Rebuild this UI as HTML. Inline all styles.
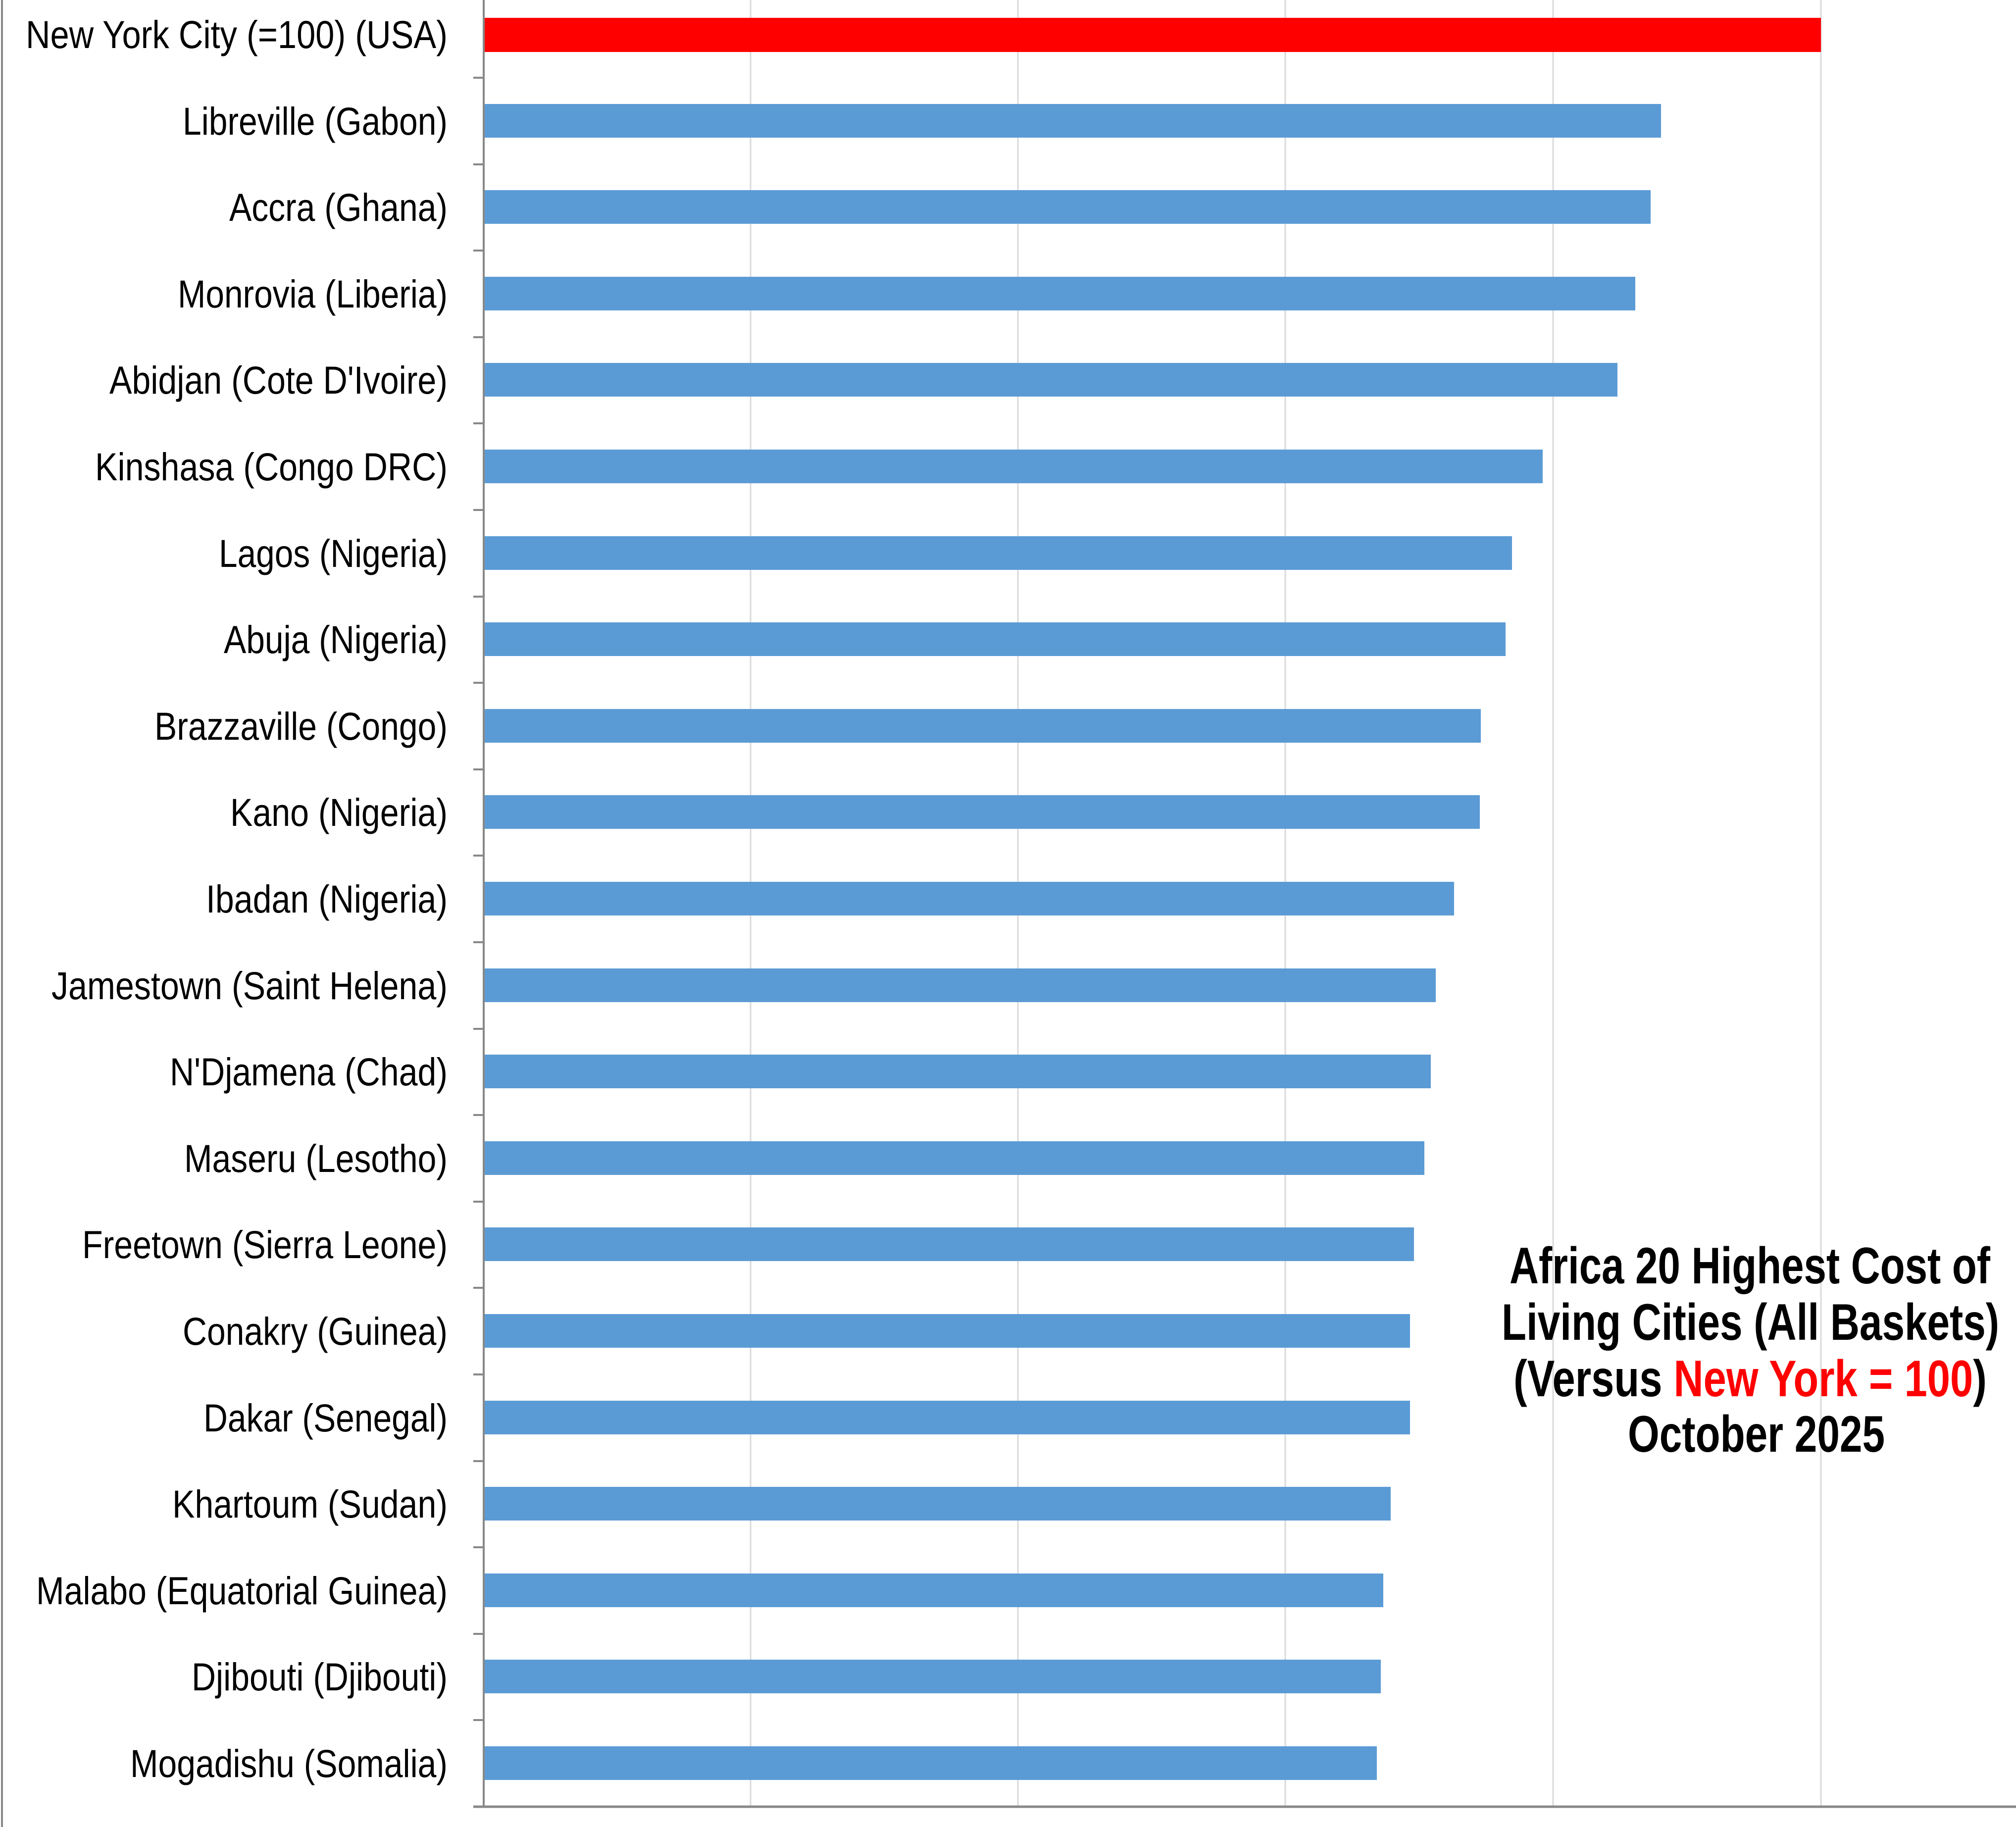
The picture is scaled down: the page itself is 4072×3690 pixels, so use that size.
<!DOCTYPE html>
<html><head><meta charset="utf-8"><style>
html,body{margin:0;padding:0;background:#fff;}
svg{display:block;}
</style></head><body>
<svg width="4072" height="3690" viewBox="0 0 4072 3690" xmlns="http://www.w3.org/2000/svg">
<rect width="4072" height="3690" fill="#fff"/>
<!-- left border -->
<line x1="4" y1="0" x2="4" y2="3690" stroke="#888" stroke-width="4"/>
<!-- gridlines -->
<g stroke="#d9d9d9" stroke-width="3">
<line x1="1516" y1="0" x2="1516" y2="3649"/>
<line x1="2056" y1="0" x2="2056" y2="3649"/>
<line x1="2596" y1="0" x2="2596" y2="3649"/>
<line x1="3137" y1="0" x2="3137" y2="3649"/>
<line x1="3678" y1="0" x2="3678" y2="3649"/>
</g>
<!-- bars -->
<g fill="#5b9bd5">
<rect x="978" y="210" width="2377" height="68"/>
<rect x="978" y="384" width="2356" height="68"/>
<rect x="978" y="559" width="2325" height="68"/>
<rect x="978" y="733" width="2289" height="68"/>
<rect x="978" y="908" width="2138" height="68"/>
<rect x="978" y="1083" width="2076" height="68"/>
<rect x="978" y="1257" width="2063" height="68"/>
<rect x="978" y="1432" width="2013" height="68"/>
<rect x="978" y="1606" width="2011" height="68"/>
<rect x="978" y="1781" width="1959" height="68"/>
<rect x="978" y="1956" width="1922" height="68"/>
<rect x="978" y="2130" width="1912" height="68"/>
<rect x="978" y="2305" width="1899" height="68"/>
<rect x="978" y="2479" width="1878" height="68"/>
<rect x="978" y="2654" width="1870" height="68"/>
<rect x="978" y="2829" width="1870" height="68"/>
<rect x="978" y="3003" width="1831" height="68"/>
<rect x="978" y="3178" width="1816" height="68"/>
<rect x="978" y="3352" width="1811" height="68"/>
<rect x="978" y="3527" width="1803" height="68"/>
</g>
<rect x="978" y="36" width="2700" height="69" fill="#ff0000"/>
<!-- axes -->
<line x1="977" y1="0" x2="977" y2="3651" stroke="#888" stroke-width="4"/>
<line x1="956" y1="3649" x2="4072" y2="3649" stroke="#888" stroke-width="5"/>
<g stroke="#888" stroke-width="4">
<line x1="956" y1="157" x2="977" y2="157"/>
<line x1="956" y1="332" x2="977" y2="332"/>
<line x1="956" y1="506" x2="977" y2="506"/>
<line x1="956" y1="681" x2="977" y2="681"/>
<line x1="956" y1="855" x2="977" y2="855"/>
<line x1="956" y1="1030" x2="977" y2="1030"/>
<line x1="956" y1="1205" x2="977" y2="1205"/>
<line x1="956" y1="1379" x2="977" y2="1379"/>
<line x1="956" y1="1554" x2="977" y2="1554"/>
<line x1="956" y1="1728" x2="977" y2="1728"/>
<line x1="956" y1="1903" x2="977" y2="1903"/>
<line x1="956" y1="2078" x2="977" y2="2078"/>
<line x1="956" y1="2252" x2="977" y2="2252"/>
<line x1="956" y1="2427" x2="977" y2="2427"/>
<line x1="956" y1="2601" x2="977" y2="2601"/>
<line x1="956" y1="2776" x2="977" y2="2776"/>
<line x1="956" y1="2951" x2="977" y2="2951"/>
<line x1="956" y1="3125" x2="977" y2="3125"/>
<line x1="956" y1="3300" x2="977" y2="3300"/>
<line x1="956" y1="3474" x2="977" y2="3474"/>
</g>
<!-- labels -->
<g font-family="'Liberation Sans', Arial, sans-serif" font-size="79" fill="#000" lengthAdjust="spacingAndGlyphs">
<text x="52" y="97" textLength="852" lengthAdjust="spacingAndGlyphs">New York City (=100) (USA)</text>
<text x="369" y="272" textLength="535" lengthAdjust="spacingAndGlyphs">Libreville (Gabon)</text>
<text x="463" y="446" textLength="441" lengthAdjust="spacingAndGlyphs">Accra (Ghana)</text>
<text x="359" y="621" textLength="545" lengthAdjust="spacingAndGlyphs">Monrovia (Liberia)</text>
<text x="221" y="795" textLength="683" lengthAdjust="spacingAndGlyphs">Abidjan (Cote D'Ivoire)</text>
<text x="192" y="970" textLength="712" lengthAdjust="spacingAndGlyphs">Kinshasa (Congo DRC)</text>
<text x="442" y="1145" textLength="462" lengthAdjust="spacingAndGlyphs">Lagos (Nigeria)</text>
<text x="452" y="1319" textLength="452" lengthAdjust="spacingAndGlyphs">Abuja (Nigeria)</text>
<text x="312" y="1494" textLength="592" lengthAdjust="spacingAndGlyphs">Brazzaville (Congo)</text>
<text x="465" y="1668" textLength="439" lengthAdjust="spacingAndGlyphs">Kano (Nigeria)</text>
<text x="416" y="1843" textLength="488" lengthAdjust="spacingAndGlyphs">Ibadan (Nigeria)</text>
<text x="104" y="2018" textLength="800" lengthAdjust="spacingAndGlyphs">Jamestown (Saint Helena)</text>
<text x="343" y="2192" textLength="561" lengthAdjust="spacingAndGlyphs">N'Djamena (Chad)</text>
<text x="372" y="2367" textLength="532" lengthAdjust="spacingAndGlyphs">Maseru (Lesotho)</text>
<text x="166" y="2541" textLength="738" lengthAdjust="spacingAndGlyphs">Freetown (Sierra Leone)</text>
<text x="369" y="2716" textLength="535" lengthAdjust="spacingAndGlyphs">Conakry (Guinea)</text>
<text x="411" y="2891" textLength="493" lengthAdjust="spacingAndGlyphs">Dakar (Senegal)</text>
<text x="348" y="3065" textLength="556" lengthAdjust="spacingAndGlyphs">Khartoum (Sudan)</text>
<text x="73" y="3240" textLength="831" lengthAdjust="spacingAndGlyphs">Malabo (Equatorial Guinea)</text>
<text x="387" y="3414" textLength="517" lengthAdjust="spacingAndGlyphs">Djibouti (Djibouti)</text>
<text x="263" y="3589" textLength="641" lengthAdjust="spacingAndGlyphs">Mogadishu (Somalia)</text>
</g>
<!-- title -->
<g font-family="'Liberation Sans', Arial, sans-serif" font-size="104" font-weight="bold" fill="#000">
<text x="3049" y="2592" textLength="971" lengthAdjust="spacingAndGlyphs">Africa 20 Highest Cost of</text>
<text x="3033" y="2706" textLength="1005" lengthAdjust="spacingAndGlyphs">Living Cities (All Baskets)</text>
<text x="3057" y="2820" textLength="956" lengthAdjust="spacingAndGlyphs">(Versus <tspan fill="#ff0000">New York = 100</tspan>)</text>
<text x="3288" y="2932" textLength="519" lengthAdjust="spacingAndGlyphs">October 2025</text>
</g>
</svg>
</body></html>
